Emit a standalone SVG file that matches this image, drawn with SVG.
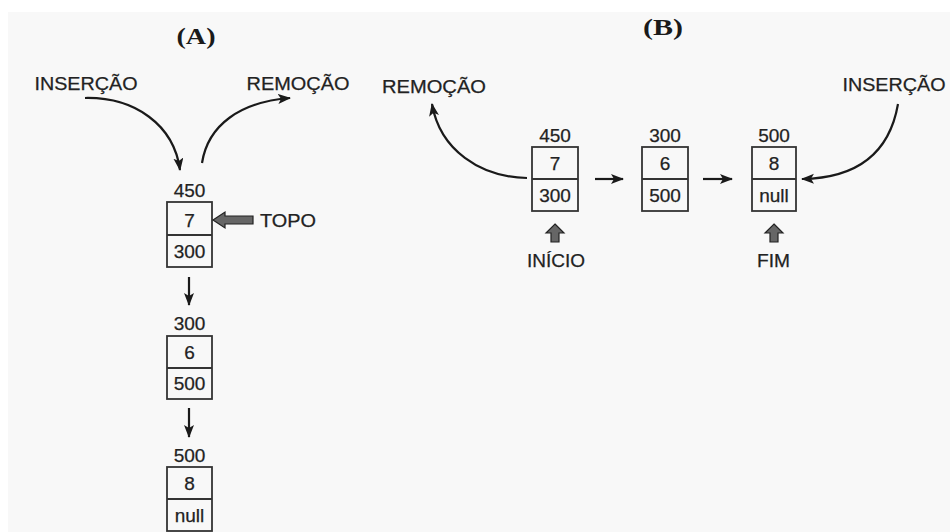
<svg xmlns="http://www.w3.org/2000/svg" width="950" height="532" viewBox="0 0 950 532">
<defs>
<marker id="ah" markerUnits="userSpaceOnUse" markerWidth="15" markerHeight="12" refX="12" refY="5" orient="auto">
<path d="M0,0 L13,5 L0,10 L3,5 z" fill="#1a1a1a"/>
</marker>
<style>
.t{font-family:"Liberation Sans",Arial,sans-serif;font-size:19px;fill:#222;stroke:#222;stroke-width:0.25;text-anchor:middle}
.h{font-family:"Liberation Serif","Times New Roman",serif;font-size:23px;font-weight:bold;fill:#1a1a1a;text-anchor:middle}
.box{fill:none;stroke:#333;stroke-width:1.8}
.ln{fill:none;stroke:#1a1a1a;stroke-width:2.2;marker-end:url(#ah)}
.fat{fill:#666;stroke:#222;stroke-width:1.2}
</style>
</defs>
<rect x="0" y="0" width="950" height="532" fill="#fff"/>
<rect x="8" y="12" width="942" height="520" fill="#f8f8f8"/>

<text class="h" x="196" y="44" textLength="39" lengthAdjust="spacingAndGlyphs">(A)</text>
<text class="h" x="663" y="35" textLength="40" lengthAdjust="spacingAndGlyphs">(B)</text>

<g id="labelsA">
<text class="t" x="86" y="90" textLength="103" lengthAdjust="spacingAndGlyphs">INSERÇÃO</text>
<text class="t" x="298" y="90" textLength="103" lengthAdjust="spacingAndGlyphs">REMOÇÃO</text>
<text class="t" x="288" y="227" textLength="56" lengthAdjust="spacingAndGlyphs">TOPO</text>
</g>

<g id="nodeA1">
<text class="t" x="189.5" y="197">450</text>
<rect class="box" x="167" y="202" width="45" height="65"/>
<line class="box" x1="167" y1="235" x2="212" y2="235"/>
<text class="t" x="189.5" y="227">7</text>
<text class="t" x="189.5" y="258">300</text>
</g>
<g id="nodeA2">
<text class="t" x="189.5" y="330">300</text>
<rect class="box" x="167" y="336" width="45" height="63"/>
<line class="box" x1="167" y1="368" x2="212" y2="368"/>
<text class="t" x="189.5" y="359">6</text>
<text class="t" x="189.5" y="390">500</text>
</g>
<g id="nodeA3">
<text class="t" x="189.5" y="462">500</text>
<rect class="box" x="167" y="467" width="45" height="64"/>
<line class="box" x1="167" y1="499" x2="212" y2="499"/>
<text class="t" x="189.5" y="490">8</text>
<text class="t" x="189.5" y="522">null</text>
</g>

<g id="labelsB">
<text class="t" x="434" y="93" textLength="104" lengthAdjust="spacingAndGlyphs">REMOÇÃO</text>
<text class="t" x="894" y="91" textLength="103" lengthAdjust="spacingAndGlyphs">INSERÇÃO</text>
<text class="t" x="556" y="267" textLength="58" lengthAdjust="spacingAndGlyphs">INÍCIO</text>
<text class="t" x="773.5" y="267" textLength="33" lengthAdjust="spacingAndGlyphs">FIM</text>
</g>

<g id="nodeB1">
<text class="t" x="555" y="142">450</text>
<rect class="box" x="532" y="147" width="46" height="64"/>
<line class="box" x1="532" y1="179" x2="578" y2="179"/>
<text class="t" x="555" y="170">7</text>
<text class="t" x="555" y="202">300</text>
</g>
<g id="nodeB2">
<text class="t" x="665" y="142">300</text>
<rect class="box" x="642" y="147" width="46" height="64"/>
<line class="box" x1="642" y1="179" x2="688" y2="179"/>
<text class="t" x="665" y="170">6</text>
<text class="t" x="665" y="202">500</text>
</g>
<g id="nodeB3">
<text class="t" x="774" y="142">500</text>
<rect class="box" x="752" y="147" width="44" height="64"/>
<line class="box" x1="752" y1="179" x2="796" y2="179"/>
<text class="t" x="774" y="170">8</text>
<text class="t" x="774" y="202">null</text>
</g>

<g id="connectors">
<path class="ln" d="M85,98 C135,97 174,125 180,170"/>
<path class="ln" d="M202,163 C208,125 240,102 290,98"/>
<line class="ln" x1="189" y1="277" x2="189" y2="305"/>
<line class="ln" x1="189" y1="408" x2="189" y2="437"/>
<path class="ln" d="M527,178 C480,177 440,150 432,104"/>
<path class="ln" d="M898,104 C890,150 860,178 802,179"/>
<line class="ln" x1="595" y1="179" x2="623" y2="179"/>
<line class="ln" x1="703" y1="179" x2="732" y2="179"/>
<polygon class="fat" points="213,220 225,212 225,216 253,216 253,224 225,224 225,228"/>
<polygon class="fat" points="555,224 564,233 559,233 559,242 551,242 551,233 546,233"/>
<polygon class="fat" points="774,224 783,233 778,233 778,242 770,242 770,233 765,233"/>
</g>
</svg>
